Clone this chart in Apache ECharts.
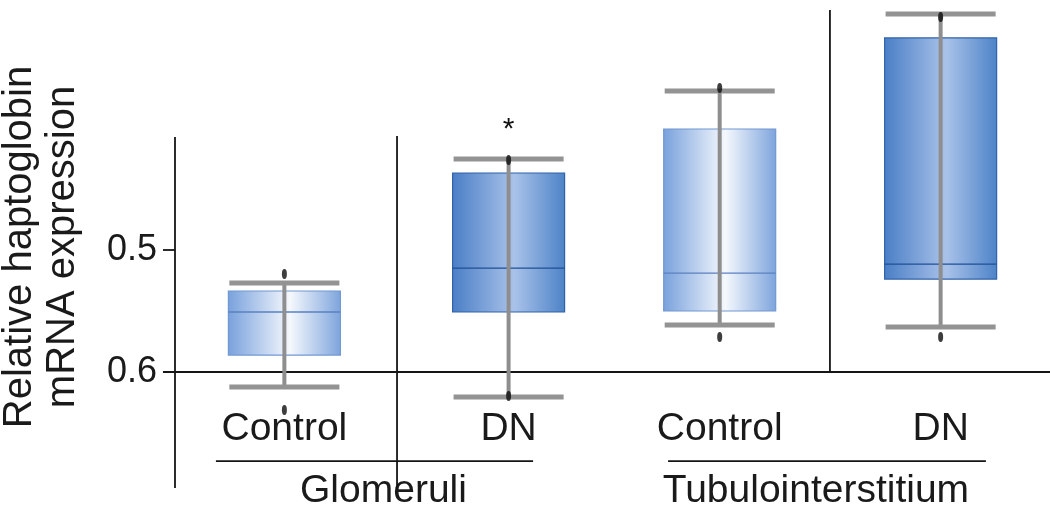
<!DOCTYPE html>
<html>
<head>
<meta charset="utf-8">
<script src="https://cdn.jsdelivr.net/npm/echarts@6/dist/echarts.min.js"></script>
<style>
html,body{margin:0;padding:0;background:#fff;}
#chart{width:1050px;height:513px;}
</style>
</head>
<body>
<div id="chart"></div>
<script>
// ---- data ----
const categories = ['Control', 'DN', 'Control', 'DN'];
const groups = ['Glomeruli', 'Tubulointerstitium'];
const groupCenters = [1.453, 3.43];
const positions = [1, 2.025, 2.99, 4];
const whiskerA = [0.5270, 0.4254, 0.3697, 0.3066];
const boxA = [0.5336, 0.4369, 0.4008, 0.3262];
const medians = [0.5508, 0.5148, 0.5189, 0.5115];
const boxB = [0.5861, 0.5508, 0.5500, 0.5238];
const whiskerB = [0.6123, 0.6205, 0.5615, 0.5631];
const dotA = [0.5197, 0.4262, 0.3672, 0.3090];
const dotB = [0.6311, 0.6197, 0.5713, 0.5713];
const significance = ['', '*', '', ''];
const yTicks = [0.5, 0.6];

// ---- styles ----
const FONT = '"Liberation Sans", Arial, Helvetica, sans-serif';
const styles = {
  Control: {
    stops: [{offset: 0, color: '#78a1dc'}, {offset: 0.55, color: '#f5f8fd'}, {offset: 1, color: '#7da4dc'}],
    border: '#7198d2', median: '#5a80c0'
  },
  DN: {
    stops: [{offset: 0, color: '#4a7ec6'}, {offset: 0.55, color: '#a9c2e9'}, {offset: 1, color: '#4d83c8'}],
    border: '#2f62a8', median: '#1f4f95'
  }
};
const BOX_W = 0.512;
const CAP_W = 0.503;

const boxData = positions.map((p, i) => [p, whiskerA[i], boxA[i], medians[i], boxB[i], whiskerB[i], i]);
const dotData = [];
positions.forEach((p, i) => { dotData.push([p, dotA[i]]); dotData.push([p, dotB[i]]); });

function renderBox(params, api) {
  const x = api.value(0);
  const i = api.value(6);
  const st = styles[categories[i]];
  const pWA = api.coord([x, api.value(1)]);
  const pBA = api.coord([x, api.value(2)]);
  const pM = api.coord([x, api.value(3)]);
  const pBB = api.coord([x, api.value(4)]);
  const pWB = api.coord([x, api.value(5)]);
  const halfBox = (api.coord([x + BOX_W / 2, 0.5])[0] - api.coord([x - BOX_W / 2, 0.5])[0]) / 2;
  const halfCap = (api.coord([x + CAP_W / 2, 0.5])[0] - api.coord([x - CAP_W / 2, 0.5])[0]) / 2;
  const cx = pM[0];
  const top = Math.min(pBA[1], pBB[1]);
  const h = Math.abs(pBB[1] - pBA[1]);
  const children = [
    {type: 'rect', shape: {x: cx - halfBox, y: top, width: halfBox * 2, height: h},
      style: {fill: new echarts.graphic.LinearGradient(0, 0, 1, 0, st.stops), stroke: st.border, lineWidth: 1.2}},
    {type: 'line', shape: {x1: cx - halfBox, y1: pM[1], x2: cx + halfBox, y2: pM[1]},
      style: {stroke: st.median, lineWidth: 1.3}},
    {type: 'line', shape: {x1: cx, y1: pWA[1], x2: cx, y2: pWB[1]},
      style: {stroke: '#8e8e8e', lineWidth: 4}},
    {type: 'line', shape: {x1: cx - halfCap, y1: pWA[1], x2: cx + halfCap, y2: pWA[1]},
      style: {stroke: '#939393', lineWidth: 5}},
    {type: 'line', shape: {x1: cx - halfCap, y1: pWB[1], x2: cx + halfCap, y2: pWB[1]},
      style: {stroke: '#939393', lineWidth: 5}}
  ];
  if (significance[i]) {
    children.push({type: 'text', x: cx, y: pWA[1] - 44,
      style: {text: significance[i], fontSize: 30, fontFamily: FONT, fill: '#111', align: 'center', verticalAlign: 'top'}});
  }
  return {type: 'group', children: children};
}

function renderFrame(params, api) {
  const segs = [
    [[0.5, 0.4074], [0.5, 0.6951]],
    [[1.515, 0.4066], [1.515, 0.6967]],
    [[3.494, 0.3033], [3.494, 0.6]],
    [[0.445, 0.6], [4.5, 0.6]],
    [[0.687, 0.673], [2.137, 0.673]],
    [[2.754, 0.673], [4.207, 0.673]]
  ];
  return {type: 'group', children: segs.map(s => {
    const a = api.coord(s[0]), b = api.coord(s[1]);
    return {type: 'line', shape: {x1: a[0], y1: a[1], x2: b[0], y2: b[1]}, style: {stroke: '#151515', lineWidth: 1.8}};
  })};
}

function nearestIndex(arr, v) {
  let best = 0;
  arr.forEach((p, i) => { if (Math.abs(p - v) < Math.abs(arr[best] - v)) best = i; });
  return best;
}

const chart = echarts.init(document.getElementById('chart'), null, {renderer: 'canvas'});
chart.setOption({
  animation: false,
  backgroundColor: '#ffffff',
  grid: {left: 175, right: 0, top: 6, bottom: 141, containLabel: false},
  xAxis: [
    {type: 'value', min: 0.5, max: 4.5, position: 'bottom',
      axisLine: {show: false}, axisTick: {show: false}, splitLine: {show: false},
      axisLabel: {customValues: positions, margin: 38, fontSize: 39, fontFamily: FONT, color: '#1a1a1a',
        formatter: v => categories[nearestIndex(positions, v)]}},
    {type: 'value', min: 0.5, max: 4.5, position: 'bottom',
      axisLine: {show: false}, axisTick: {show: false}, splitLine: {show: false},
      axisLabel: {customValues: groupCenters, margin: 100, fontSize: 39, fontFamily: FONT, color: '#1a1a1a',
        formatter: v => groups[nearestIndex(groupCenters, v)]}}
  ],
  yAxis: {type: 'value', min: 0.3, max: 0.6, inverse: true,
    axisLine: {show: false}, splitLine: {show: false},
    axisTick: {show: true, customValues: yTicks, length: 12, lineStyle: {color: '#151515', width: 1.8}},
    axisLabel: {customValues: yTicks, margin: 18, fontSize: 36, fontFamily: FONT, color: '#1a1a1a',
      formatter: v => v.toFixed(1)}},
  graphic: [{type: 'text', x: 41, y: 247, rotation: Math.PI / 2,
    style: {text: 'Relative haptoglobin\nmRNA expression', fontSize: 40, fontFamily: FONT, fill: '#1a1a1a',
      align: 'center', verticalAlign: 'middle', lineHeight: 43}}],
  series: [
    {type: 'custom', name: 'frame', data: [[0]], renderItem: renderFrame, clip: false, silent: true, z: 1},
    {type: 'custom', name: 'boxes', data: boxData, renderItem: renderBox, clip: false, z: 2,
      encode: {x: 0, y: [1, 2, 3, 4, 5]}},
    {type: 'scatter', name: 'points', data: dotData, symbol: 'circle', symbolSize: [5, 10],
      itemStyle: {color: '#0d0d0d'}, clip: false, z: 3}
  ]
});
</script>
</body>
</html>
